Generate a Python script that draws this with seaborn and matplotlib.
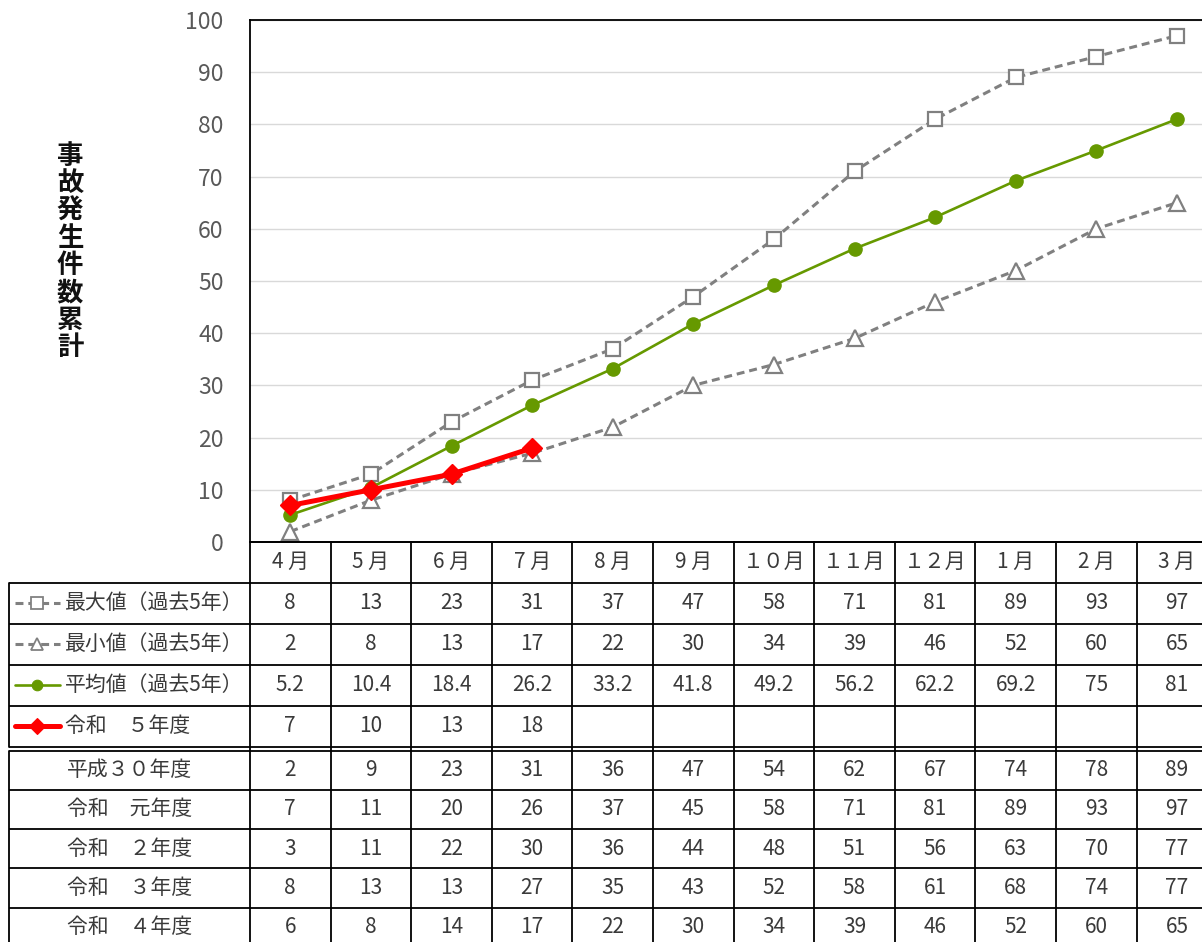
import matplotlib
matplotlib.use("Agg")
import matplotlib.pyplot as plt
import seaborn as sns
import numpy as np

# data
months = ["4 月", "5 月", "6 月", "7 月", "8 月", "9 月",
          "１０月", "１１月", "１２月", "1 月", "2 月", "3 月"]
max_5y = [8, 13, 23, 31, 37, 47, 58, 71, 81, 89, 93, 97]
min_5y = [2, 8, 13, 17, 22, 30, 34, 39, 46, 52, 60, 65]
avg_5y = [5.2, 10.4, 18.4, 26.2, 33.2, 41.8, 49.2, 56.2, 62.2, 69.2, 75, 81]
r5 = [7, 10, 13, 18]
h30 = [2, 9, 23, 31, 36, 47, 54, 62, 67, 74, 78, 89]
r1 = [7, 11, 20, 26, 37, 45, 58, 71, 81, 89, 93, 97]
r2 = [3, 11, 22, 30, 36, 44, 48, 51, 56, 63, 70, 77]
r3 = [8, 13, 13, 27, 35, 43, 52, 58, 61, 68, 74, 77]
r4 = [6, 8, 14, 17, 22, 30, 34, 39, 46, 52, 60, 65]

upper_labels = ["最大値（過去5年）", "最小値（過去5年）", "平均値（過去5年）", "令和　５年度"]
lower_labels = ["平成３０年度", "令和　元年度", "令和　２年度", "令和　３年度", "令和　４年度"]

sns.set_theme(style="white")
plt.rcParams["font.family"] = ["Noto Sans CJK JP", "DejaVu Sans"]

GREY = "#808080"
GREEN = "#669900"
RED = "#FF0000"
TXT = "#3A3A3A"

W, H = 1202, 942
fig = plt.figure(figsize=(W / 100, H / 100), dpi=100)

# layout in pixels
X0, COLW = 250, 80.6
XL = 9
PLOT_TOP, PLOT_BOT = 20, 542

ax = fig.add_axes([X0 / W, 1 - PLOT_BOT / H, 12 * COLW / W, (PLOT_BOT - PLOT_TOP) / H])
x = np.arange(len(months))

dash = (0, (2.6, 1.6))
styles = [
    dict(y=max_5y, color=GREY, lw=2.2, ls=dash, marker="s", ms=10.5, mfc="white", mec=GREY, mew=1.6),
    dict(y=min_5y, color=GREY, lw=2.2, ls=dash, marker="^", ms=11, mfc="white", mec=GREY, mew=1.6),
    dict(y=avg_5y, color=GREEN, lw=1.9, ls="-", marker="o", ms=9.5, mfc=GREEN, mec=GREEN, mew=1),
    dict(y=r5, color=RED, lw=3.6, ls="-", marker="D", ms=10, mfc=RED, mec=RED, mew=1),
]
for st in styles:
    yv = st["y"]
    sns.lineplot(x=x[:len(yv)], y=yv, ax=ax, color=st["color"], linewidth=st["lw"],
                 linestyle=st["ls"], marker=st["marker"], markersize=st["ms"],
                 markerfacecolor=st["mfc"], markeredgecolor=st["mec"],
                 markeredgewidth=st["mew"], sort=False, zorder=3)

ax.set_xlim(-0.5, 11.5)
ax.set_ylim(0, 100)
ax.set_yticks(range(0, 101, 10))
ax.set_xticks([])
ax.yaxis.grid(True, color="#D9D9D9", linewidth=1.0)
ax.tick_params(axis="y", length=0, pad=19, labelsize=16.5, labelcolor="#595959")
for s in ["left", "top", "bottom"]:
    ax.spines[s].set_color("black")
    ax.spines[s].set_linewidth(1.3)
ax.spines["right"].set_visible(False)
ax.set_xlabel("")
ax.set_ylabel("")

fig.text(70 / W, 1 - 252 / H, "\n".join("事故発生件数累計"), ha="center", va="center",
         fontsize=19, fontweight="bold", color="#111111", linespacing=1.02)

# table
ax_t = fig.add_axes([0, 0, 1, 1], zorder=3)
ax_t.set_xlim(0, W)
ax_t.set_ylim(H, 0)
ax_t.axis("off")
ax_t.patch.set_alpha(0)

HEAD_H = 40.5
UP_H = 41.0
LOW_H = 39.3
head_bot = PLOT_BOT + HEAD_H
up_edges = [head_bot + i * UP_H for i in range(5)]
low_top = up_edges[-1] + 4
low_edges = [low_top + i * LOW_H for i in range(6)]
col_edges = [X0 + k * COLW for k in range(13)]
col_centers = [X0 + (k + 0.5) * COLW for k in range(12)]

LW = 1.3
for yy in up_edges + low_edges:
    ax_t.plot([XL, W], [yy, yy], color="black", lw=LW, solid_capstyle="butt")
ax_t.plot([X0, W], [PLOT_BOT, PLOT_BOT], color="black", lw=LW)
ax_t.plot([XL, XL], [up_edges[0], up_edges[-1]], color="black", lw=LW)
ax_t.plot([XL, XL], [low_edges[0], H + 5], color="black", lw=LW)
for xe in col_edges:
    ax_t.plot([xe, xe], [PLOT_BOT, H + 5], color="black", lw=LW)

FS = 15
yh = (PLOT_BOT + head_bot) / 2
for cx, m in zip(col_centers, months):
    ax_t.text(cx, yh, m, ha="center", va="center", fontsize=FS, color=TXT)

upper_vals = [max_5y, min_5y, avg_5y, r5]
for i, (lab, vals, st) in enumerate(zip(upper_labels, upper_vals, styles)):
    yc = (up_edges[i] + up_edges[i + 1]) / 2
    ax_t.plot([15, 60], [yc, yc], color=st["color"], lw=st["lw"], ls=st["ls"])
    ax_t.plot([37], [yc], marker=st["marker"], ms=st["ms"] * 0.8, mfc=st["mfc"],
              mec=st["mec"], mew=st["mew"] * 0.8, ls="none")
    ax_t.text(65, yc, lab, ha="left", va="center", fontsize=FS, color=TXT)
    for cx, v in zip(col_centers, vals):
        ax_t.text(cx, yc, f"{v:g}", ha="center", va="center", fontsize=FS, color=TXT)

lower_vals = [h30, r1, r2, r3, r4]
for i, (lab, vals) in enumerate(zip(lower_labels, lower_vals)):
    yc = (low_edges[i] + low_edges[i + 1]) / 2
    ax_t.text((XL + X0) / 2, yc, lab, ha="center", va="center", fontsize=FS, color=TXT)
    for cx, v in zip(col_centers, vals):
        ax_t.text(cx, yc, f"{v:g}", ha="center", va="center", fontsize=FS, color=TXT)

fig.savefig("out.png", dpi=100)
